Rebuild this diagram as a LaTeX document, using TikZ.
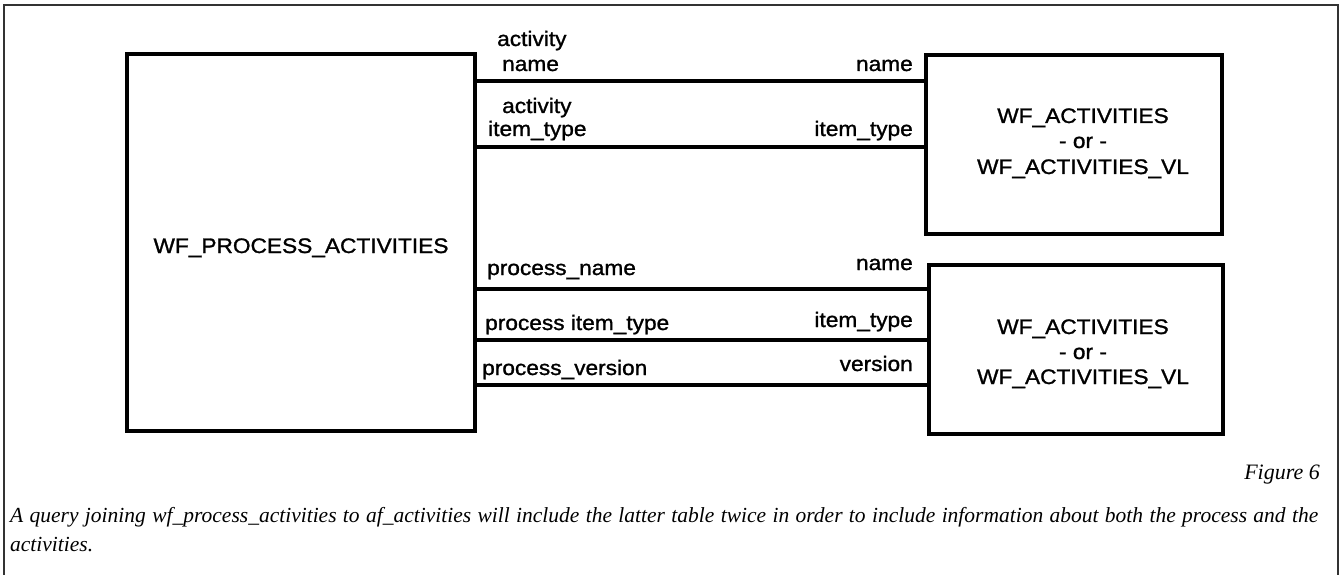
\documentclass[tikz,border=0pt]{standalone}
\usepackage{fontspec}
\setmainfont{Liberation Serif}
\newfontfamily\dfont[FakeStretch=1.08,FakeBold=1.2]{Liberation Sans}

\begin{document}
\begin{tikzpicture}[x=1pt,y=-1pt,
  tbl/.style={draw=black, line width=4pt, outer sep=0pt, inner sep=0pt},
  conn/.style={draw=black, line width=4pt},
  lbl/.style={font=\dfont\fontsize{21}{24}\selectfont, inner sep=0pt},
  capt/.style={font=\itshape\fontsize{21.5}{24}\selectfont, inner sep=0pt},
  figlbl/.style={font=\itshape\fontsize{22}{24}\selectfont, inner sep=0pt},
  frame/.style={draw=black!80, line width=2pt}
]
\useasboundingbox (0,0) rectangle (1342,575);

% page frame, open at the bottom
\draw[frame] (4.3,580) -- (4.3,5.3) -- (1337.7,5.3) -- (1337.7,580);

% tables
\node[tbl, minimum width=347.7pt, minimum height=377pt] (L) at (301,242.5) {};
\node[tbl, minimum width=296.5pt, minimum height=179pt] (R1) at (1073.75,144.5) {};
\node[tbl, minimum width=294pt, minimum height=169pt] (R2) at (1076,349.5) {};

% table names
\node[lbl, anchor=base] (Lt) at (L.center |- 0,253) {WF\_PROCESS\_ACTIVITIES};
\node[lbl, anchor=base] (R1a) at (1083,123) {WF\_ACTIVITIES};
\node[lbl, anchor=base] (R1b) at (1083,148) {- or -};
\node[lbl, anchor=base] (R1c) at (1083,174) {WF\_ACTIVITIES\_VL};
\node[lbl, anchor=base] (R2a) at (1083,334) {WF\_ACTIVITIES};
\node[lbl, anchor=base] (R2b) at (1083,359) {- or -};
\node[lbl, anchor=base] (R2c) at (1083,384) {WF\_ACTIVITIES\_VL};

% join rows
\coordinate (y1) at (0,81);
\coordinate (y2) at (0,147.5);
\coordinate (y3) at (0,288.7);
\coordinate (y4) at (0,339.5);
\coordinate (y5) at (0,384.7);
\draw[conn] (L.east |- y1) -- (R1.west |- y1);
\draw[conn] (L.east |- y2) -- (R1.west |- y2);
\draw[conn] (L.east |- y3) -- (R2.west |- y3);
\draw[conn] (L.east |- y4) -- (R2.west |- y4);
\draw[conn] (L.east |- y5) -- (R2.west |- y5);

% column labels
\node[lbl, anchor=base west] (c1a) at (497,46) {activity};
\node[lbl, anchor=base west] (c1b) at (502,71) {name};
\node[lbl, anchor=base east] (c1r) at (913,71) {name};
\node[lbl, anchor=base west] (c2a) at (502,113) {activity};
\node[lbl, anchor=base west] (c2b) at (488,136) {item\_type};
\node[lbl, anchor=base east] (c2r) at (913,136) {item\_type};
\node[lbl, anchor=base west] (c3) at (487,275) {process\_name};
\node[lbl, anchor=base east] (c3r) at (913,270) {name};
\node[lbl, anchor=base west] (c4) at (485,330) {process item\_type};
\node[lbl, anchor=base east] (c4r) at (913,327) {item\_type};
\node[lbl, anchor=base west] (c5) at (482,375) {process\_version};
\node[lbl, anchor=base east] (c5r) at (913,371) {version};

% caption
\node[figlbl, anchor=base east] (fig) at (1320,479) {Figure 6};
\node[capt, anchor=base west] (cap1) at (10,522) {\makebox[1308pt][s]{A query joining wf\_process\_activities to af\_activities will include the latter table twice in order to include information about both the process and the}};
\node[capt, anchor=base west] (cap2) at (10,551) {activities.};
\end{tikzpicture}
\end{document}
